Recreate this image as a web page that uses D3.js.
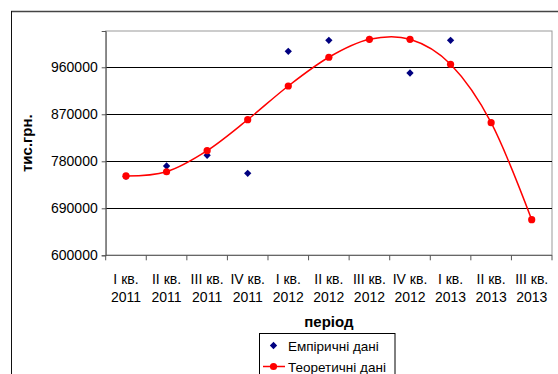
<!DOCTYPE html>
<html>
<head>
<meta charset="utf-8">
<script src="https://cdn.jsdelivr.net/npm/d3@7"></script>
<style>
  html, body { margin: 0; padding: 0; background: #fff; }
  svg { display: block; font-family: "Liberation Sans", Arial, sans-serif; }
</style>
</head>
<body>
<svg id="chart" width="558" height="374"></svg>
<script>
// Quarter labels (two lines each)
const quarters = ["I кв.", "II кв.", "III кв.", "IV кв.", "I кв.", "II кв.", "III кв.", "IV кв.", "I кв.", "II кв.", "III кв."];
const years = ["2011", "2011", "2011", "2011", "2012", "2012", "2012", "2012", "2013", "2013", "2013"];

// Observed values (null where there is no observation)
const empirical = [751000, 771000, 791500, 757000, 990600, 1011700, 1013600, 949100, 1011700, null, null];
// Model values
const theoretical = [752000, 760000, 800300, 859700, 924200, 979200, 1013600, 1013600, 965700, 853900, 668200];

const yTicks = [600000, 690000, 780000, 870000, 960000];
const yMax = 1029500;

const svg = d3.select("#chart");
const plot = { left: 105.7, right: 552, top: 31, bottom: 255.3 };

// Outer chart frame (only top and left edges fall inside the view)
svg.append("line").attr("x1", 11).attr("x2", 560).attr("y1", 11.5).attr("y2", 11.5)
  .attr("stroke", "#444").attr("stroke-width", 1.6);
svg.append("line").attr("x1", 11.5).attr("x2", 11.5).attr("y1", 11).attr("y2", 374)
  .attr("stroke", "#111").attr("stroke-width", 1);

const x = d3.scaleBand().domain(d3.range(quarters.length)).range([plot.left, plot.right]);
const y = d3.scaleLinear().domain([600000, yMax]).range([plot.bottom, plot.top]);

// Plot area border
svg.append("rect")
  .attr("x", plot.left).attr("y", plot.top)
  .attr("width", plot.right - plot.left).attr("height", plot.bottom - plot.top)
  .attr("fill", "none").attr("stroke", "#999").attr("stroke-width", 1);

// Horizontal gridlines
svg.append("g").selectAll("line").data(yTicks.slice(1)).join("line")
  .attr("x1", plot.left).attr("x2", plot.right)
  .attr("y1", d => Math.round(y(d)) + 0.5).attr("y2", d => Math.round(y(d)) + 0.5)
  .attr("stroke", "#000").attr("stroke-width", 1);

// Y axis
const yAxis = svg.append("g").attr("transform", `translate(${plot.left},0)`)
  .call(d3.axisLeft(y).tickValues(yTicks).tickSize(4).tickPadding(4).tickFormat(d3.format("d")));
yAxis.select(".domain").attr("stroke", "#555");
yAxis.selectAll(".tick line").attr("stroke", "#555");
yAxis.selectAll("text").attr("font-size", 14).attr("fill", "#000")
  .attr("font-family", "Liberation Sans, Arial, sans-serif");

// X axis: ticks between categories
const xAxisG = svg.append("g").attr("transform", `translate(0,${plot.bottom})`);
const edges = d3.range(quarters.length + 1).map(i => plot.left + i * x.bandwidth());
xAxisG.append("line").attr("x1", plot.left).attr("x2", plot.right)
  .attr("y1", 0).attr("y2", 0).attr("stroke", "#555");
xAxisG.selectAll("line.tk").data(edges).join("line").attr("class", "tk")
  .attr("x1", d => d).attr("x2", d => d).attr("y1", 0).attr("y2", 5).attr("stroke", "#555");
const xl = xAxisG.selectAll("text.lbl").data(quarters).join("text").attr("class", "lbl")
  .attr("x", (d, i) => x(i) + x.bandwidth() / 2)
  .attr("text-anchor", "middle").attr("font-size", 14).attr("fill", "#000");
xl.append("tspan").attr("x", (d, i) => x(i) + x.bandwidth() / 2).attr("y", 29).text(d => d);
xl.append("tspan").attr("x", (d, i) => x(i) + x.bandwidth() / 2).attr("y", 47).text((d, i) => years[i]);

// Axis titles
svg.append("text").attr("x", (plot.left + plot.right) / 2).attr("y", 327)
  .attr("text-anchor", "middle").attr("font-size", 15).attr("font-weight", "bold").text("період");
svg.append("text").attr("transform", `translate(32,${(plot.top + plot.bottom) / 2}) rotate(-90)`)
  .attr("text-anchor", "middle").attr("font-size", 15).attr("font-weight", "bold").text("тис.грн.");

const cx = i => x(i) + x.bandwidth() / 2;
const diamond = d3.symbol().type(d3.symbolDiamond2).size(34);

// Observed points
svg.append("g").selectAll("path").data(empirical.map((v, i) => ({ v, i })).filter(d => d.v !== null))
  .join("path")
  .attr("d", diamond)
  .attr("transform", d => `translate(${cx(d.i)},${y(d.v)})`)
  .attr("fill", "#000080");

// Model curve (smoothed) and markers
const line = d3.line().x((d, i) => cx(i)).y(d => y(d)).curve(d3.curveCardinal.tension(0));
svg.append("path").datum(theoretical).attr("d", line)
  .attr("fill", "none").attr("stroke", "#ff0000").attr("stroke-width", 1.5);
svg.append("g").selectAll("circle").data(theoretical).join("circle")
  .attr("cx", (d, i) => cx(i)).attr("cy", d => y(d)).attr("r", 3.6).attr("fill", "#ff0000");

// Legend
const lg = svg.append("g");
lg.append("rect").attr("x", 259.5).attr("y", 333.5).attr("width", 135.5).attr("height", 50)
  .attr("fill", "#fff").attr("stroke", "#000").attr("stroke-width", 1);
lg.append("path").attr("d", diamond).attr("transform", "translate(273.5,345.5)").attr("fill", "#000080");
lg.append("text").attr("x", 288).attr("y", 350.5).attr("font-size", 13.5).text("Емпіричні дані");
lg.append("line").attr("x1", 263).attr("x2", 285).attr("y1", 366.5).attr("y2", 366.5)
  .attr("stroke", "#ff0000").attr("stroke-width", 1.5);
lg.append("circle").attr("cx", 273.5).attr("cy", 366.5).attr("r", 3.6).attr("fill", "#ff0000");
lg.append("text").attr("x", 288).attr("y", 371.5).attr("font-size", 13.5).text("Теоретичні дані");
</script>
</body>
</html>
